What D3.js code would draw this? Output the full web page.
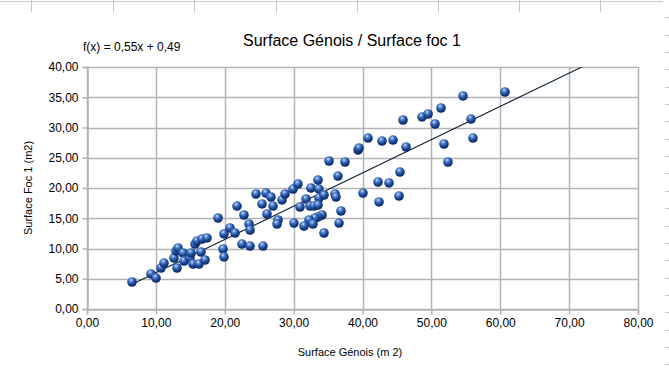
<!DOCTYPE html>
<html>
<head>
<meta charset="utf-8">
<script src="https://cdn.jsdelivr.net/npm/d3@7"></script>
<style>
  body { margin: 0; background: #fff; }
  text { font-family: "Liberation Sans", Arial, sans-serif; fill: #000; }
</style>
</head>
<body>
<div id="chart"></div>
<script>
// surface genois (m2) vs surface foc 1 (m2)
var genois = [6.53, 9.29, 10.02, 10.74, 11.18, 13.07, 12.63, 12.92, 13.21, 13.94,
  14.08, 14.95, 15.10, 15.39, 16.26, 16.55, 17.13, 15.68, 15.97, 16.70,
  17.42, 19.02, 19.89, 19.75, 19.89, 20.76, 21.49, 22.50, 23.52, 23.67,
  23.67, 25.55, 22.79, 21.78, 24.54, 25.41, 25.99, 26.71, 27.01, 26.13,
  27.73, 27.59, 28.31, 28.75, 29.91, 30.63, 30.93, 30.05, 35.14, 37.46,
  39.35, 36.44, 32.52, 33.68, 33.54, 31.80, 33.68, 34.41, 36.01, 36.15,
  32.38, 32.96, 33.54, 40.07, 42.25, 43.85, 42.40, 36.88, 34.12, 33.54,
  33.10, 32.23, 32.81, 31.51, 36.59, 34.41, 54.59, 60.69, 51.40, 48.64,
  49.51, 45.88, 50.53, 55.75, 56.04, 51.83, 52.41, 40.80, 42.83, 44.43,
  46.32, 39.49, 45.44, 45.30];
var foc = [4.46, 5.79, 5.12, 6.78, 7.60, 6.78, 8.43, 9.59, 10.08, 9.26,
  7.93, 8.43, 9.26, 7.44, 7.44, 9.42, 8.10, 10.74, 11.24, 11.57,
  11.74, 15.04, 12.40, 9.92, 8.60, 13.39, 12.56, 10.74, 14.05, 13.06,
  10.41, 10.41, 15.54, 17.02, 19.01, 17.36, 19.17, 18.51, 17.02, 15.70,
  14.71, 14.05, 18.02, 19.01, 19.83, 20.66, 16.86, 14.21, 24.46, 24.30,
  26.28, 21.98, 20.00, 19.83, 21.32, 18.18, 18.35, 18.84, 19.01, 18.51,
  17.02, 17.02, 17.19, 19.17, 20.99, 20.83, 17.69, 16.20, 15.54, 15.21,
  15.04, 14.71, 14.05, 13.72, 14.21, 12.56, 35.21, 35.87, 33.22, 31.74,
  32.23, 31.24, 30.58, 31.40, 28.26, 27.27, 24.30, 28.26, 27.77, 27.93,
  26.78, 26.61, 22.64, 18.68];

var xTicks = [0, 10, 20, 30, 40, 50, 60, 70, 80];
var yTicks = [0, 5, 10, 15, 20, 25, 30, 35, 40];
var slope = 0.55, intercept = 0.49;

var width = 669, height = 377;
var margin = {top: 67, left: 87, right: 31, bottom: 68};
var fmt = function(v) { return d3.format(".2f")(v).replace(".", ","); };

var svg = d3.select("#chart").append("svg")
    .attr("width", width)
    .attr("height", height);

// spreadsheet cell borders peeking around the chart
var bg = svg.append("g").attr("stroke", "#c8c8c8").attr("stroke-width", 1);
bg.append("line").attr("x1", 0).attr("x2", 663).attr("y1", 1.5).attr("y2", 1.5);
[31, 113, 194, 276, 357, 438, 519, 600].forEach(function(x) {
    bg.append("line").attr("x1", x + 0.5).attr("x2", x + 0.5).attr("y1", 0).attr("y2", 12);
});
d3.range(17.3, 377, 17.35).forEach(function(y) {
    bg.append("line").attr("x1", 665).attr("x2", 669).attr("y1", Math.round(y) + 0.5).attr("y2", Math.round(y) + 0.5);
});

var xScale = d3.scaleLinear()
    .domain([0, 80])
    .range([margin.left, width - margin.right]);

var yScale = d3.scaleLinear()
    .domain([0, 40])
    .range([height - margin.bottom, margin.top]);

// gridlines
svg.append("g")
    .selectAll("line.v")
    .data(xTicks)
    .enter().append("line")
    .attr("x1", function(d) { return Math.round(xScale(d)) + 0.5; })
    .attr("x2", function(d) { return Math.round(xScale(d)) + 0.5; })
    .attr("y1", yScale(40))
    .attr("y2", yScale(0))
    .attr("stroke", "#b3b3b3")
    .attr("stroke-width", 1.5);

svg.append("g")
    .selectAll("line.h")
    .data(yTicks)
    .enter().append("line")
    .attr("x1", xScale(0))
    .attr("x2", xScale(80))
    .attr("y1", function(d) { return Math.round(yScale(d)) + 0.5; })
    .attr("y2", function(d) { return Math.round(yScale(d)) + 0.5; })
    .attr("stroke", "#b3b3b3")
    .attr("stroke-width", 1.5);

var xAxis = svg.append("g")
    .attr("transform", "translate(0," + (Math.round(yScale(0)) + 0.5) + ")")
    .call(d3.axisBottom(xScale).tickValues(xTicks).tickFormat(fmt).tickSizeOuter(0).tickSize(5).tickPadding(4));

var yAxis = svg.append("g")
    .attr("transform", "translate(" + (Math.round(xScale(0)) + 0.5) + ",0)")
    .call(d3.axisLeft(yScale).tickValues(yTicks).tickFormat(fmt).tickSizeOuter(0).tickSize(5).tickPadding(4));

[xAxis, yAxis].forEach(function(ax) {
    ax.selectAll("path, line").attr("stroke", "#b3b3b3").attr("stroke-width", 1.5);
    ax.selectAll("text").style("font-size", "12px").style("font-family", "'Liberation Sans', Arial, sans-serif").attr("fill", "#000");
});

// trend line, clipped to the plot area
svg.append("clipPath").attr("id", "plotclip")
    .append("rect")
    .attr("x", xScale(0)).attr("y", yScale(40))
    .attr("width", xScale(80) - xScale(0)).attr("height", yScale(0) - yScale(40));

var x0 = d3.min(genois);
svg.append("line")
    .attr("clip-path", "url(#plotclip)")
    .attr("x1", xScale(x0))
    .attr("y1", yScale(slope * x0 + intercept))
    .attr("x2", xScale(80))
    .attr("y2", yScale(slope * 80 + intercept))
    .attr("stroke", "#0b1f3a")
    .attr("stroke-width", 1.1);

// shaded sphere markers
var defs = svg.append("defs");
var grad = defs.append("radialGradient")
    .attr("id", "ball")
    .attr("cx", "0.4").attr("cy", "0.3").attr("r", "0.72");
grad.append("stop").attr("offset", "0").attr("stop-color", "#eef4ff");
grad.append("stop").attr("offset", "0.18").attr("stop-color", "#6c98dc");
grad.append("stop").attr("offset", "0.55").attr("stop-color", "#1f4f9f");
grad.append("stop").attr("offset", "1").attr("stop-color", "#082058");

var points = svg.append("g")
    .selectAll("circle")
    .data(d3.zip(genois, foc))
    .enter()
    .append("circle")
    .attr("cx", function(d) { return xScale(d[0]); })
    .attr("cy", function(d) { return yScale(d[1]); })
    .attr("r", 4.8)
    .attr("fill", "url(#ball)");

// texts
svg.append("text")
    .attr("x", 352)
    .attr("y", 46)
    .attr("text-anchor", "middle")
    .style("font-size", "16px")
    .text("Surface Génois / Surface foc 1");

svg.append("text")
    .attr("x", 83)
    .attr("y", 51)
    .style("font-size", "12px")
    .text("f(x) = 0,55x + 0,49");

svg.append("text")
    .attr("x", 350)
    .attr("y", 356)
    .attr("text-anchor", "middle")
    .style("font-size", "11px")
    .text("Surface Génois (m 2)");

svg.append("text")
    .attr("transform", "rotate(-90)")
    .attr("x", -188)
    .attr("y", 32)
    .attr("text-anchor", "middle")
    .style("font-size", "11px")
    .text("Surface Foc 1 (m2)");
</script>
</body>
</html>
